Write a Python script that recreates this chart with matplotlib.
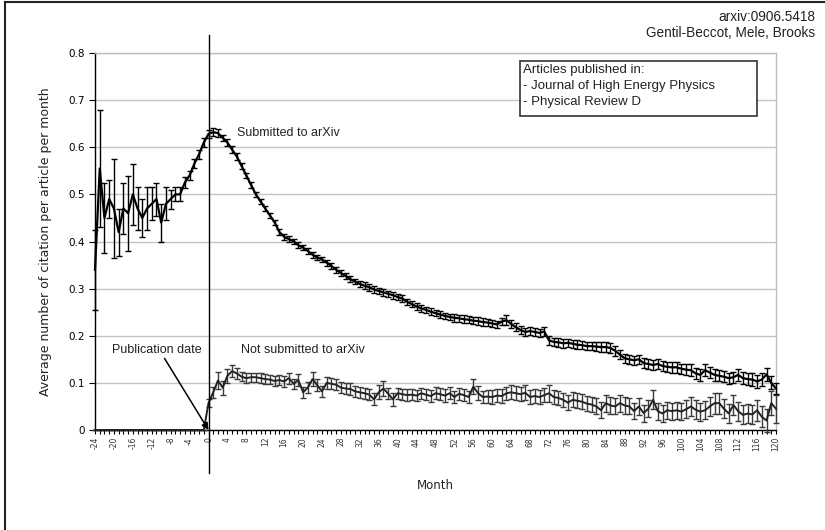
import matplotlib
matplotlib.use("Agg")
import matplotlib.pyplot as plt
from matplotlib.lines import Line2D
from matplotlib.patches import Rectangle

# ---------------- data ----------------
months = list(range(-24, 121))

submitted_pre = [0.34, 0.555, 0.45, 0.49, 0.47, 0.42, 0.47, 0.46, 0.50, 0.47,
                 0.45, 0.47, 0.48, 0.49, 0.44, 0.48, 0.49, 0.50, 0.50, 0.525,
                 0.54, 0.565, 0.585, 0.61]
submitted_pre_err = [0.085, 0.125, 0.075, 0.04, 0.105, 0.05, 0.055, 0.08, 0.065, 0.045,
                     0.04, 0.045, 0.035, 0.035, 0.04, 0.035, 0.02, 0.015, 0.015, 0.012,
                     0.01, 0.01, 0.01, 0.01]
submitted_post = [0.628, 0.632, 0.63, 0.62, 0.61, 0.595, 0.58, 0.56, 0.54, 0.52,
                  0.50, 0.485, 0.47, 0.455, 0.44, 0.42, 0.41, 0.405, 0.40, 0.392,
                  0.387, 0.38, 0.372, 0.366, 0.362, 0.355, 0.348, 0.34, 0.333, 0.327,
                  0.32, 0.315, 0.31, 0.306, 0.303, 0.298, 0.295, 0.292, 0.289, 0.286,
                  0.282, 0.279, 0.272, 0.267, 0.262, 0.258, 0.255, 0.251, 0.248, 0.245,
                  0.242, 0.24, 0.238, 0.237, 0.235, 0.234, 0.232, 0.231, 0.229, 0.228,
                  0.226, 0.224, 0.23, 0.233, 0.225, 0.218, 0.212, 0.208, 0.21, 0.208,
                  0.206, 0.209, 0.19, 0.187, 0.186, 0.184, 0.185, 0.183, 0.181, 0.18,
                  0.178, 0.178, 0.177, 0.176, 0.176, 0.174, 0.168, 0.16, 0.152, 0.15,
                  0.148, 0.15, 0.142, 0.14, 0.138, 0.14, 0.136, 0.134, 0.133, 0.133,
                  0.13, 0.128, 0.127, 0.12, 0.117, 0.127, 0.122, 0.117, 0.115, 0.113,
                  0.11, 0.112, 0.117, 0.11, 0.108, 0.107, 0.103, 0.107, 0.118, 0.1, 0.088]
submitted_post_err = [0.008, 0.008, 0.008, 0.007, 0.007, 0.007, 0.007, 0.006, 0.006, 0.006,
                      0.006, 0.006, 0.006, 0.006, 0.006, 0.006, 0.006, 0.006, 0.006, 0.006,
                      0.006, 0.006, 0.006, 0.006, 0.006, 0.006, 0.006, 0.006, 0.006, 0.006,
                      0.006, 0.006, 0.006, 0.007, 0.007, 0.007, 0.007, 0.007, 0.007, 0.007,
                      0.007, 0.007, 0.007, 0.007, 0.007, 0.007, 0.007, 0.007, 0.007, 0.007,
                      0.007, 0.007, 0.008, 0.008, 0.008, 0.008, 0.008, 0.008, 0.008, 0.008,
                      0.008, 0.008, 0.008, 0.01, 0.008, 0.008, 0.008, 0.008, 0.009, 0.009,
                      0.009, 0.009, 0.009, 0.009, 0.009, 0.009, 0.009, 0.009, 0.009, 0.009,
                      0.009, 0.009, 0.01, 0.01, 0.01, 0.01, 0.01, 0.01, 0.01, 0.01,
                      0.01, 0.01, 0.01, 0.01, 0.011, 0.011, 0.011, 0.011, 0.011, 0.011,
                      0.011, 0.011, 0.012, 0.012, 0.012, 0.012, 0.012, 0.012, 0.012, 0.012,
                      0.012, 0.012, 0.013, 0.013, 0.013, 0.013, 0.013, 0.013, 0.014, 0.014, 0.012]

not_submitted_pre = [0, 0, 0, 0, 0, 0, 0, 0, 0, 0, 0, 0,
                     0, 0, 0, 0, 0, 0, 0, 0, 0, 0, 0, 0]
not_submitted_pre_err = [0, 0, 0, 0, 0, 0, 0, 0, 0, 0, 0, 0,
                         0, 0, 0, 0, 0, 0, 0, 0, 0, 0, 0, 0]
not_submitted_post = [0.057, 0.08, 0.105, 0.09, 0.115, 0.125, 0.12, 0.113, 0.11, 0.112,
                      0.112, 0.11, 0.108, 0.107, 0.104, 0.106, 0.103, 0.11, 0.098, 0.106,
                      0.08, 0.09, 0.108, 0.095, 0.082, 0.1, 0.098, 0.096, 0.09, 0.088,
                      0.087, 0.082, 0.08, 0.078, 0.075, 0.065, 0.08, 0.088, 0.077, 0.065,
                      0.078, 0.076, 0.074, 0.075, 0.073, 0.078, 0.075, 0.072, 0.078, 0.076,
                      0.073, 0.078, 0.07, 0.077, 0.074, 0.07, 0.092, 0.078, 0.07, 0.071,
                      0.07, 0.073, 0.072, 0.078, 0.08, 0.078, 0.076, 0.079, 0.07, 0.072,
                      0.07, 0.074, 0.078, 0.07, 0.068, 0.064, 0.058, 0.064, 0.062, 0.06,
                      0.056, 0.054, 0.05, 0.042, 0.057, 0.052, 0.05, 0.057, 0.052, 0.05,
                      0.04, 0.05, 0.036, 0.045, 0.064, 0.04, 0.035, 0.042, 0.04, 0.042,
                      0.039, 0.044, 0.05, 0.043, 0.039, 0.042, 0.05, 0.057, 0.057, 0.045,
                      0.035, 0.053, 0.04, 0.032, 0.035, 0.033, 0.042, 0.028, 0.02, 0.057, 0.045]
not_submitted_post_err = [0.008, 0.012, 0.018, 0.015, 0.015, 0.013, 0.012, 0.01, 0.01, 0.01,
                          0.01, 0.01, 0.01, 0.01, 0.01, 0.01, 0.011, 0.012, 0.01, 0.012,
                          0.012, 0.012, 0.015, 0.013, 0.012, 0.013, 0.012, 0.012, 0.012, 0.012,
                          0.012, 0.012, 0.012, 0.012, 0.012, 0.013, 0.015, 0.016, 0.012, 0.014,
                          0.012, 0.012, 0.012, 0.012, 0.012, 0.012, 0.012, 0.012, 0.013, 0.013,
                          0.013, 0.013, 0.013, 0.013, 0.013, 0.013, 0.016, 0.015, 0.013, 0.013,
                          0.014, 0.014, 0.014, 0.014, 0.015, 0.015, 0.015, 0.016, 0.015, 0.015,
                          0.015, 0.015, 0.018, 0.015, 0.015, 0.015, 0.016, 0.016, 0.016, 0.016,
                          0.016, 0.016, 0.017, 0.017, 0.018, 0.017, 0.017, 0.018, 0.018, 0.017,
                          0.017, 0.018, 0.018, 0.018, 0.02, 0.018, 0.018, 0.018, 0.018, 0.018,
                          0.018, 0.019, 0.02, 0.02, 0.019, 0.019, 0.02, 0.022, 0.022, 0.02,
                          0.02, 0.022, 0.02, 0.02, 0.02, 0.02, 0.022, 0.022, 0.025, 0.025, 0.03]

submitted = submitted_pre + submitted_post
submitted_err = submitted_pre_err + submitted_post_err
not_submitted = not_submitted_pre + not_submitted_post
not_submitted_err = not_submitted_pre_err + not_submitted_post_err

x_ticks = list(range(-24, 121, 4))
x_tick_labels = [str(m) for m in x_ticks]
y_ticks = [0, 0.1, 0.2, 0.3, 0.4, 0.5, 0.6, 0.7, 0.8]
y_tick_labels = ["0", "0.1", "0.2", "0.3", "0.4", "0.5", "0.6", "0.7", "0.8"]

legend_lines = ["Articles published in:", "- Journal of High Energy Physics", "- Physical Review D"]

# ---------------- figure ----------------
W, H = 825, 530
fig = plt.figure(figsize=(W / 100, H / 100), dpi=100)
fig.patch.set_facecolor("white")
L, R, T, B = 95, 776, 53, 430
ax = fig.add_axes([L / W, 1 - B / H, (R - L) / W, (B - T) / H])
ax.set_xlim(-24, 120)
ax.set_ylim(0, 0.8)

ax.yaxis.grid(True, color="#c4c4c4", lw=1)
ax.set_axisbelow(True)
for s in ["top", "right"]:
    ax.spines[s].set_color("#bdbdbd")
    ax.spines[s].set_linewidth(1)
for s in ["left", "bottom"]:
    ax.spines[s].set_color("black")
    ax.spines[s].set_linewidth(1)

ax.errorbar(months, not_submitted, yerr=not_submitted_err, color="#222222", ecolor="#3a3a3a",
            lw=1.4, elinewidth=1, capsize=2.2, capthick=1, zorder=3, clip_on=False)
ax.errorbar(months, submitted, yerr=submitted_err, color="black", ecolor="black",
            lw=1.6, elinewidth=1, capsize=2.2, capthick=1, zorder=4, clip_on=False)

ax.set_xticks(x_ticks)
ax.set_xticklabels(x_tick_labels, rotation=90, fontsize=5.5, family="DejaVu Sans")
ax.set_xticks(months, minor=True)
ax.set_yticks(y_ticks)
ax.set_yticklabels(y_tick_labels, fontsize=7.5, family="DejaVu Sans")
ax.tick_params(axis="x", which="both", direction="out", length=3, width=0.8, pad=2, colors="black")
ax.tick_params(axis="y", direction="out", length=4, width=0.8, pad=3)
for lab in ax.get_xticklabels():
    lab.set_color("#333333")

ax.set_ylabel("Average number of citation per article per month", fontsize=9,
              family="DejaVu Sans", color="#222222")
ax.yaxis.set_label_coords(-0.063, 0.5)
ax.set_xlabel("Month", fontsize=8.5, family="DejaVu Sans", color="#222222")
ax.xaxis.set_label_coords(0.5, -0.13)

# publication date vertical line
ax.axvline(0, ymin=(B - 473) / (B - T), ymax=(B - 35) / (B - T), color="black", lw=1,
           clip_on=False, zorder=5)

# annotations
ax.text(6.0, 0.63, "Submitted to arXiv", fontsize=9, family="Liberation Sans",
        ha="left", va="center", color="#222222")
ax.text(6.9, 0.17, "Not submitted to arXiv", fontsize=9, family="Liberation Sans",
        ha="left", va="center", color="#222222")
ax.text(-10.9, 0.17, "Publication date", fontsize=9, family="Liberation Sans",
        ha="center", va="center", color="#222222")
ax.annotate("", xy=(0, 0), xytext=(-9.3, 0.152),
            arrowprops=dict(arrowstyle="-|>", color="black", lw=1.1,
                            mutation_scale=10, shrinkA=0, shrinkB=0), zorder=6)

# legend-like box
bx0, bx1, by0, by1 = 520, 757, 61, 116
ax.add_patch(Rectangle(((bx0 - L) / (R - L), (B - by1) / (B - T)),
                       (bx1 - bx0) / (R - L), (by1 - by0) / (B - T),
                       transform=ax.transAxes, facecolor="white", edgecolor="#333333",
                       lw=1.2, zorder=6))
for i, line in enumerate(legend_lines):
    ypix = 70 + i * 16
    ax.text((523 - L) / (R - L), (B - ypix) / (B - T), line, transform=ax.transAxes,
            fontsize=9.5, family="Liberation Sans", ha="left", va="center",
            color="#222222", zorder=7)

# header text
fig.text(815 / W, 1 - 17 / H, "arxiv:0906.5418", fontsize=9.8, family="Liberation Sans",
         ha="right", va="center", color="#222222")
fig.text(815 / W, 1 - 33 / H, "Gentil-Beccot, Mele, Brooks", fontsize=9.8,
         family="Liberation Sans", ha="right", va="center", color="#222222")

# image border (left and top)
fig.add_artist(Line2D([4.5 / W, 4.5 / W], [0, 1 - 1.5 / H], transform=fig.transFigure,
                      color="#222222", lw=1.5))
fig.add_artist(Line2D([4.5 / W, 1], [1 - 1.5 / H, 1 - 1.5 / H], transform=fig.transFigure,
                      color="#222222", lw=1.5))

fig.savefig("out.png", dpi=100, facecolor="white")
